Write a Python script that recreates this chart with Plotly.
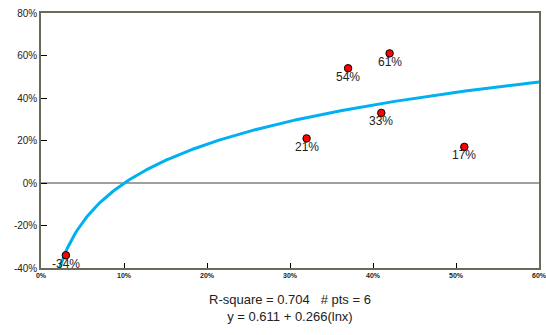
import numpy as np
import plotly.graph_objects as go

x_vals = [0.03, 0.32, 0.37, 0.41, 0.42, 0.51]
y_vals = [-0.34, 0.21, 0.54, 0.33, 0.61, 0.17]
labels = ["-34%", "21%", "54%", "33%", "61%", "17%"]
fit_a = 0.611
fit_b = 0.266
x_ticks = [0, 0.1, 0.2, 0.3, 0.4, 0.5, 0.6]
x_tick_text = ["0%", "10%", "20%", "30%", "40%", "50%", "60%"]
y_ticks = [-0.4, -0.2, 0, 0.2, 0.4, 0.6, 0.8]
y_tick_text = ["-40%", "-20%", "0%", "20%", "40%", "60%", "80%"]

xs = np.linspace(np.exp((-0.4 - fit_a) / fit_b), 0.6, 300)
ys = fit_a + fit_b * np.log(xs)

fig = go.Figure()
fig.add_trace(go.Scatter(x=xs, y=ys, mode="lines",
                         line=dict(color="#00b0f0", width=3), hoverinfo="skip"))
fig.add_trace(go.Scatter(x=x_vals, y=y_vals, mode="markers",
                         marker=dict(color="#ff0000", size=7.5, line=dict(color="#000000", width=1))))

fig.add_shape(type="line", x0=0, x1=0.6, y0=0, y1=0, xref="x", yref="y",
              line=dict(color="#808080", width=1.5), layer="below")

annotations = [
    dict(x=xv, y=yv, text=t, xref="x", yref="y", showarrow=False,
         xanchor="center", yanchor="middle", yshift=-8.5,
         font=dict(family="Arial", size=12, color="#222222"))
    for xv, yv, t in zip(x_vals, y_vals, labels)
]
annotations.append(
    dict(text="R-square = 0.704   # pts = 6<br>y = 0.611 + 0.266(lnx)",
         xref="paper", yref="paper", x=0.5, y=0, xanchor="center", yanchor="top",
         yshift=-22, showarrow=False, align="center",
         font=dict(family="Arial", size=13, color="#222222"))
)

fig.update_layout(
    width=546, height=335,
    margin=dict(l=41, r=7, t=13, b=67, autoexpand=False),
    plot_bgcolor="white", paper_bgcolor="white",
    showlegend=False,
    font=dict(family="Arial", color="#222222"),
    xaxis=dict(range=[0, 0.6], tickvals=x_ticks, ticktext=x_tick_text,
               ticks="inside", ticklen=5, tickcolor="#000000", automargin=False,
               ticklabeloverflow="allow",
               showgrid=False, zeroline=False,
               showline=True, linecolor="#6b6b5a", linewidth=2, mirror=True,
               tickfont=dict(family="Arial", size=7, color="#222222", weight="bold")),
    yaxis=dict(range=[-0.4, 0.8], tickvals=y_ticks, ticktext=y_tick_text,
               ticks="inside", ticklen=6, tickcolor="#000000", automargin=False,
               showgrid=False, zeroline=False,
               showline=True, linecolor="#6b6b5a", linewidth=1.5, mirror=True,
               tickfont=dict(family="Arial", size=10, color="#222222")),
    annotations=annotations,
)

fig.write_html("out.html", config={"displayModeBar": False},
               post_script="document.body.style.margin='0';")
